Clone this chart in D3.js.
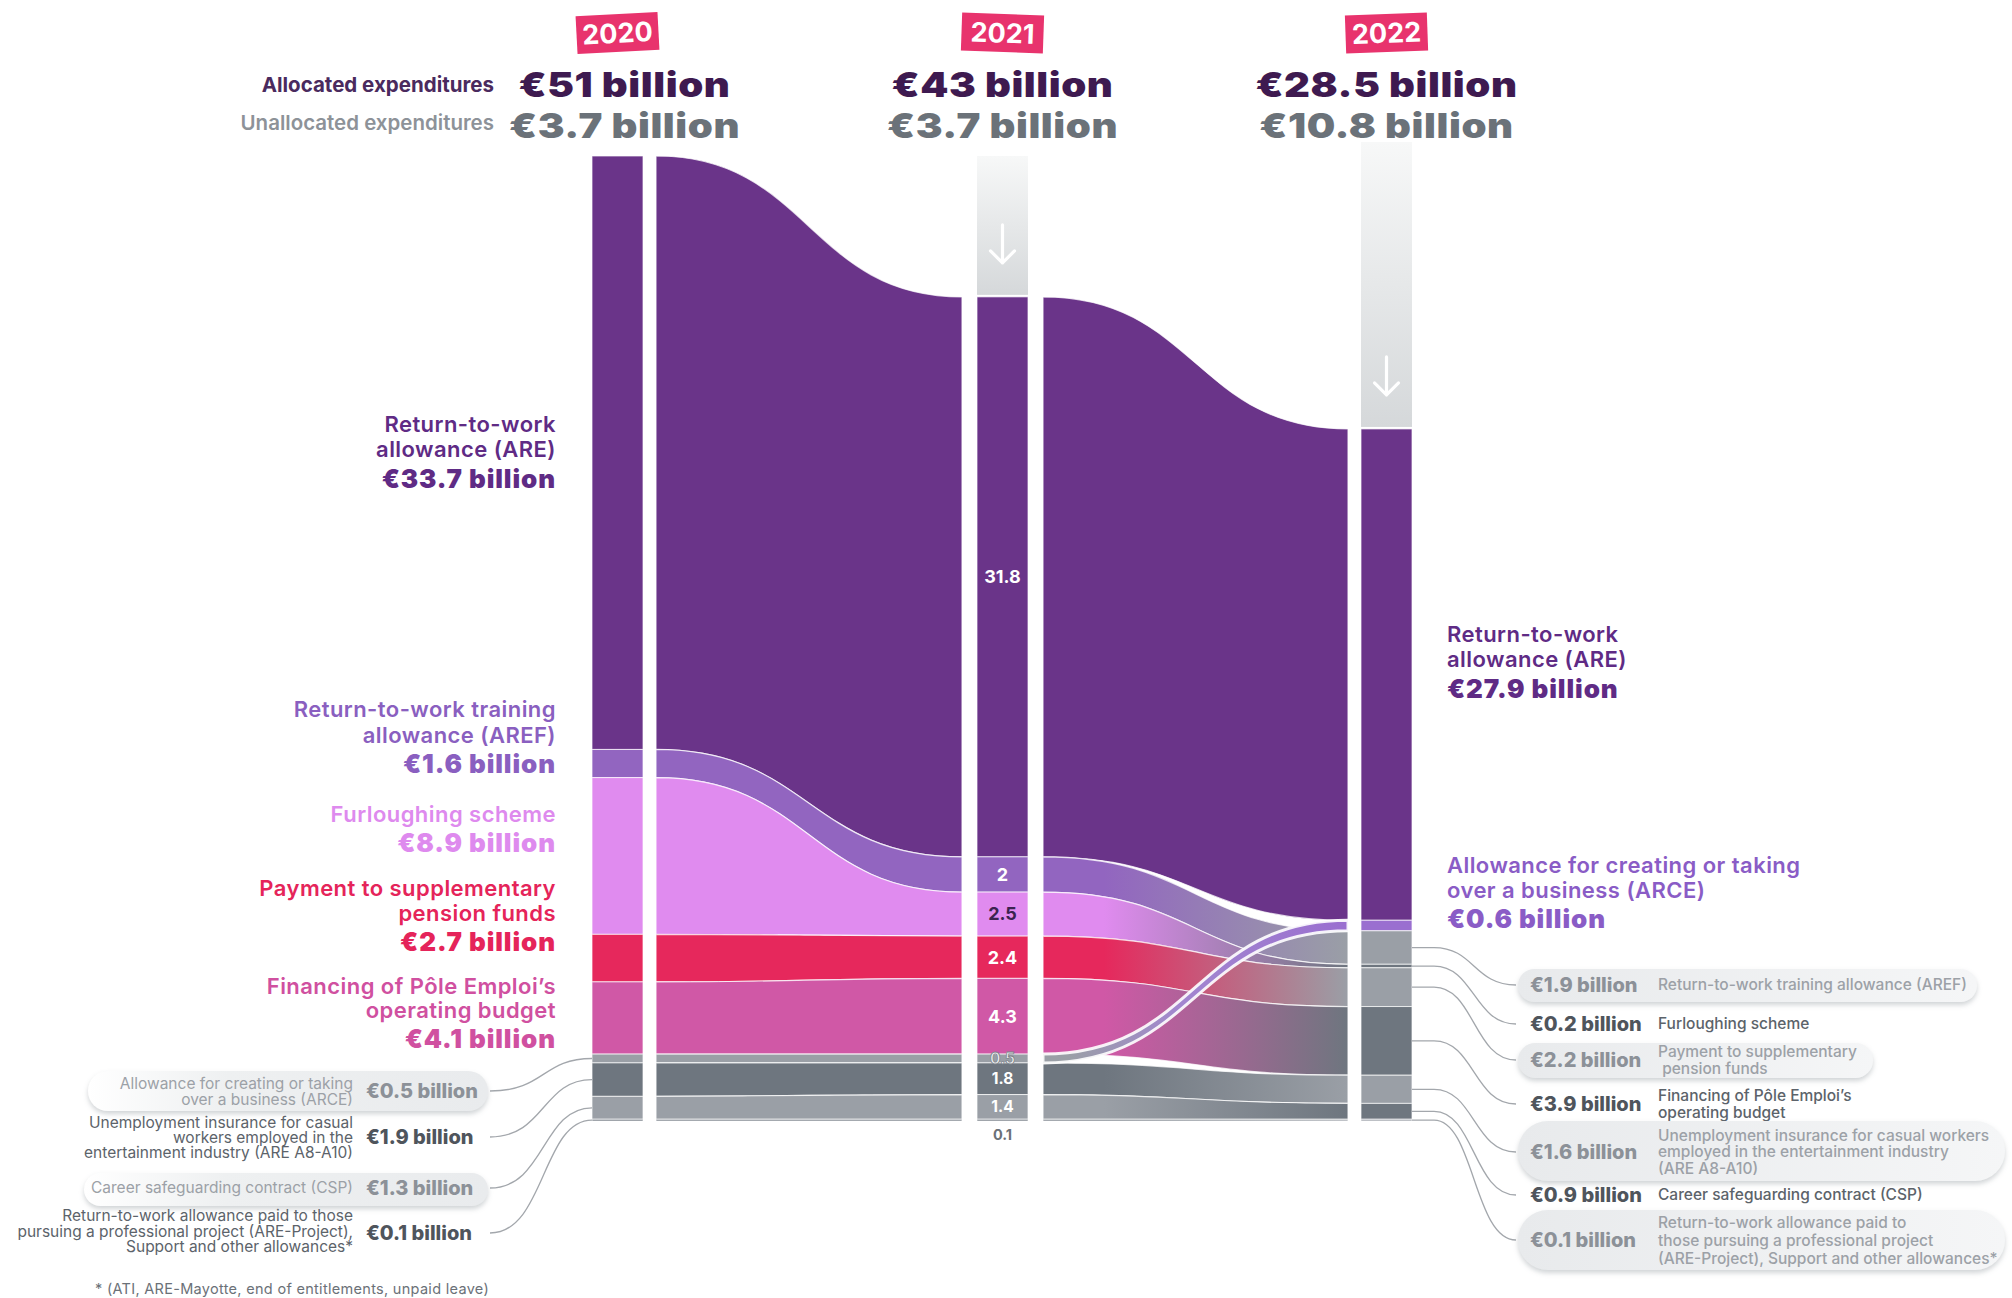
<!DOCTYPE html>
<html>
<head>
<meta charset="utf-8">
<script src="https://cdn.jsdelivr.net/npm/d3@7"></script>
<style>
  html, body { margin: 0; padding: 0; background: #fff; }
  svg { display: block; font-family: Inter, "Open Sans", sans-serif; }
</style>
</head>
<body>
<svg id="chart" width="2012" height="1298"></svg>
<script>
// ---- Data (billions of euros) ----
const years = ["2020", "2021", "2022"];
const categories = ["ARE", "AREF", "Furlough", "Pension", "PoleEmploi", "ARCE", "Casual", "CSP", "Project"];
const values2020 = [33.7, 1.6, 8.9, 2.7, 4.1, 0.5, 1.9, 1.3, 0.1];
const values2021 = [31.8, 2, 2.5, 2.4, 4.3, 0.5, 1.8, 1.4, 0.1];
const values2022 = [27.9, 1.9, 0.2, 2.2, 3.9, 0.6, 1.6, 0.9, 0.1];
const order2022 = ["ARE", "ARCE", "AREF", "Furlough", "Pension", "PoleEmploi", "Casual", "CSP", "Project"];
const allocatedEarly = ["ARE", "AREF", "Furlough", "Pension", "PoleEmploi"];
const allocated2022 = ["ARE", "ARCE"];
const allocatedTotals = [51, 43, 28.5];
const unallocatedTotals = [3.7, 3.7, 10.8];

// ---- Label text ----
const leftNames = {
  ARE: ["Return-to-work", "allowance (ARE)"],
  AREF: ["Return-to-work training", "allowance (AREF)"],
  Furlough: ["Furloughing scheme"],
  Pension: ["Payment to supplementary", "pension funds"],
  PoleEmploi: ["Financing of Pôle Emploi’s", "operating budget"],
  ARCE: ["Allowance for creating or taking", "over a business (ARCE)"],
  Casual: ["Unemployment insurance for casual", "workers employed in the", "entertainment industry (ARE A8-A10)"],
  CSP: ["Career safeguarding contract (CSP)"],
  Project: ["Return-to-work allowance paid to those", "pursuing a professional project (ARE-Project),", "Support and other allowances*"]
};
const rightNames = {
  ARE: ["Return-to-work", "allowance (ARE)"],
  ARCE: ["Allowance for creating or taking", "over a business (ARCE)"],
  AREF: ["Return-to-work training allowance (AREF)"],
  Furlough: ["Furloughing scheme"],
  Pension: ["Payment to supplementary", " pension funds"],
  PoleEmploi: ["Financing of Pôle Emploi’s", "operating budget"],
  Casual: ["Unemployment insurance for casual workers", "employed in the entertainment industry", "(ARE A8-A10)"],
  CSP: ["Career safeguarding contract (CSP)"],
  Project: ["Return-to-work allowance paid to", "those pursuing a professional project", "(ARE-Project), Support and other allowances*"]
};
const footnote = "* (ATI, ARE-Mayotte, end of entitlements, unpaid leave)";

// ---- Styling ----
const colors = {
  ARE: "#6a3489", AREF: "#9265c0", Furlough: "#e08bef",
  Pension: "#e6285c", PoleEmploi: "#d058a6", ARCE: "#9a6fd0"
};
const labelColors = {
  ARE: "#5f2b85", AREF: "#8a5fc0", Furlough: "#de8aee",
  Pension: "#e5245a", PoleEmploi: "#d050a0", ARCE: "#8a5cc6"
};
const grayLight = "#9a9fa6", grayDark = "#6e767f";
const lightEarly = ["ARCE", "CSP"];
const light2022 = ["AREF", "Pension", "Casual", "Project"];

const fmt = v => "€" + v + " billion";

// ---- Layout ----
const svg = d3.select("#chart");
const barW = 51;
const colX = [592, 977, 1361];
const flowX = [[656, 962], [1043, 1348]];
const yBottom = 1121, yTop = 156;

const yearValues = [values2020, values2021, values2022];
const yearOrders = [categories, categories, order2022];
const total2020 = d3.sum(values2020);
const y = d3.scaleLinear().domain([0, total2020]).range([yBottom, yTop]);

function stackYear(vals, order) {
  const byCat = {};
  categories.forEach((c, i) => byCat[c] = vals[i]);
  let cum = d3.sum(vals);
  const out = {};
  order.forEach(c => {
    out[c] = { cat: c, v: byCat[c], y0: y(cum), y1: y(cum - byCat[c]) };
    cum -= byCat[c];
  });
  return out;
}
const stacks = yearValues.map((v, i) => stackYear(v, yearOrders[i]));

function fillFor(cat, yi) {
  const alloc = yi < 2 ? allocatedEarly : allocated2022;
  if (alloc.includes(cat)) return colors[cat];
  const light = yi < 2 ? lightEarly : light2022;
  return light.includes(cat) ? grayLight : grayDark;
}

function ribbon(x0, x1, a0, a1, b0, b1) {
  const p = d3.path();
  const xm = (x0 + x1) / 2;
  p.moveTo(x0, a0);
  p.bezierCurveTo(xm, a0, xm, b0, x1, b0);
  p.lineTo(x1, b1);
  p.bezierCurveTo(xm, b1, xm, a1, x0, a1);
  p.closePath();
  return p.toString();
}

const defs = svg.append("defs");
const shadow = defs.append("filter").attr("id", "pillShadow")
  .attr("x", "-5%").attr("y", "-30%").attr("width", "110%").attr("height", "170%");
shadow.append("feDropShadow").attr("dx", 0).attr("dy", 3).attr("stdDeviation", 2.5)
  .attr("flood-color", "#9aa0a6").attr("flood-opacity", 0.45);

const colGrad = defs.append("linearGradient").attr("id", "colGrad")
  .attr("x1", 0).attr("x2", 0).attr("y1", 0).attr("y2", 1);
colGrad.append("stop").attr("offset", "0%").attr("stop-color", "#f7f8f8");
colGrad.append("stop").attr("offset", "100%").attr("stop-color", "#d5d8da");

// ---- Reduction columns above 2021 and 2022 ----
[1, 2].forEach(yi => {
  const top = d3.min(Object.values(stacks[yi]), d => d.y0);
  const colTop = yi === 1 ? y(total2020) : y(total2020) - 14;
  svg.append("rect")
    .attr("x", colX[yi]).attr("y", colTop)
    .attr("width", barW).attr("height", top - colTop - 2)
    .attr("fill", "url(#colGrad)");
  const cx = colX[yi] + barW / 2;
  const ay1 = top - 34, ay0 = ay1 - 38;
  svg.append("path")
    .attr("d", `M${cx},${ay0}V${ay1}M${cx - 12},${ay1 - 12}L${cx},${ay1}L${cx + 12},${ay1 - 12}`)
    .attr("fill", "none").attr("stroke", "#fff").attr("stroke-width", 3.2)
    .attr("stroke-linecap", "round").attr("stroke-linejoin", "round");
});

// ---- Flows 2020 -> 2021 ----
const flows1 = svg.append("g");
categories.forEach(c => {
  const s = stacks[0][c], t = stacks[1][c];
  flows1.append("path")
    .attr("d", ribbon(flowX[0][0], flowX[0][1], s.y0, s.y1, t.y0, t.y1))
    .attr("fill", fillFor(c, 0))
    .attr("stroke", "#fff").attr("stroke-width", 1.2).attr("stroke-opacity", 0.75);
});

// ---- Flows 2021 -> 2022 ----
const flows2 = svg.append("g");
const flowOrder2 = categories.filter(c => c !== "ARCE").concat(["ARCE"]);
flowOrder2.forEach(c => {
  const s = stacks[1][c], t = stacks[2][c];
  const c0 = fillFor(c, 1), c1 = fillFor(c, 2);
  let fill = c0;
  if (c0 !== c1) {
    const id = "g-" + c;
    const g = defs.append("linearGradient").attr("id", id)
      .attr("gradientUnits", "userSpaceOnUse")
      .attr("x1", flowX[1][0]).attr("x2", flowX[1][1]).attr("y1", 0).attr("y2", 0);
    const crossing = c === "ARCE";
    g.append("stop").attr("offset", "0%").attr("stop-color", c0);
    g.append("stop").attr("offset", crossing ? "8%" : "20%").attr("stop-color", c0);
    g.append("stop").attr("offset", crossing ? "45%" : "100%").attr("stop-color", crossing ? "#a286cf" : c1);
    g.append("stop").attr("offset", "100%").attr("stop-color", c1);
    fill = `url(#${id})`;
  }
  flows2.append("path")
    .attr("d", ribbon(flowX[1][0], flowX[1][1], s.y0, s.y1, t.y0, t.y1))
    .attr("fill", fill)
    .attr("stroke", "#fff")
    .attr("stroke-width", c === "ARCE" ? 3 : 1.2)
    .attr("stroke-opacity", c === "ARCE" ? 0.9 : 0.75);
});

// ---- Bars ----
stacks.forEach((st, yi) => {
  const g = svg.append("g");
  yearOrders[yi].forEach(c => {
    const d = st[c];
    g.append("rect")
      .attr("x", colX[yi]).attr("y", d.y0)
      .attr("width", barW).attr("height", Math.max(d.y1 - d.y0, 0.8))
      .attr("fill", fillFor(c, yi))
      .attr("stroke", "#fff").attr("stroke-width", 1).attr("stroke-opacity", 0.7);
  });
});

// ---- Value labels inside the 2021 bar ----
const cx21 = colX[1] + barW / 2;
categories.forEach(c => {
  const d = stacks[1][c];
  const mid = (d.y0 + d.y1) / 2;
  const t = svg.append("text")
    .attr("x", cx21).attr("text-anchor", "middle")
    .attr("font-size", 18).attr("font-weight", 700)
    .text(d.v);
  if (c === "Project") {
    t.attr("y", d.y1 + 14).attr("dy", "0.35em").attr("fill", "#6b7178").attr("font-size", 14.5);
  } else if (c === "ARCE") {
    t.attr("y", mid).attr("dy", "0.35em").attr("fill", "#eef0f1")
      .attr("stroke", "#7d838a").attr("stroke-width", 0.8).attr("font-size", 15.5);
  } else {
    t.attr("y", mid).attr("dy", "0.35em")
      .attr("fill", c === "Furlough" ? "#3b2350" : "#fff");
    if (c === "Casual" || c === "CSP") t.attr("font-size", 15.5);
  }
});

// ---- Header ----
const badgeRot = [-3, 2, -2];
function headerValue(x, yBase, text, color) {
  svg.append("g").attr("transform", `translate(${x},${yBase}) scale(1.18,1)`)
    .append("text").attr("text-anchor", "middle")
    .attr("font-size", 34).attr("font-weight", 900).attr("letter-spacing", 0.5)
    .attr("fill", color).text(text);
}
years.forEach((yr, i) => {
  const cx = colX[i] + barW / 2;
  const g = svg.append("g").attr("transform", `translate(${cx},33) rotate(${badgeRot[i]})`);
  g.append("rect").attr("x", -41).attr("y", -19).attr("width", 82).attr("height", 38)
    .attr("fill", "#e8336d");
  g.append("text").attr("text-anchor", "middle").attr("dy", "0.36em")
    .attr("font-size", 27).attr("font-weight", 700).attr("fill", "#fff").text(yr);
  const hx = i === 0 ? cx + 7 : cx;
  headerValue(hx, 97, fmt(allocatedTotals[i]), "#3e1a50");
  headerValue(hx, 138, fmt(unallocatedTotals[i]), "#6b7279");
});
svg.append("text").attr("x", 494).attr("y", 92).attr("text-anchor", "end")
  .attr("font-size", 20.5).attr("font-weight", 700).attr("fill", "#4a2a5e")
  .text("Allocated expenditures");
svg.append("text").attr("x", 494).attr("y", 130).attr("text-anchor", "end")
  .attr("font-size", 20.5).attr("font-weight", 600).attr("fill", "#8d9298")
  .text("Unallocated expenditures");

// ---- Big category labels ----
function bigLabel(x, anchor, lines, lineYs, valueY, value, color) {
  const g = svg.append("g").attr("fill", color).attr("text-anchor", anchor);
  lines.forEach((l, i) => g.append("text").attr("x", x).attr("y", lineYs[i]).attr("dy", "0.35em")
    .attr("font-size", 22).attr("font-weight", 600).attr("letter-spacing", 0.45).text(l));
  g.append("text").attr("x", x).attr("y", valueY).attr("dy", "0.35em")
    .attr("font-size", 26).attr("font-weight", 900).attr("letter-spacing", 0.9).text(fmt(value));
}
const leftBig = [
  ["ARE", [424, 449], 479],
  ["AREF", [709, 735], 764],
  ["Furlough", [814], 843],
  ["Pension", [888, 913], 942],
  ["PoleEmploi", [986, 1010], 1039]
];
leftBig.forEach(([c, ys, vy]) =>
  bigLabel(556, "end", leftNames[c], ys, vy, values2020[categories.indexOf(c)], labelColors[c]));
const rightBig = [
  ["ARE", [634, 659], 689],
  ["ARCE", [865, 890], 919]
];
rightBig.forEach(([c, ys, vy]) =>
  bigLabel(1447, "start", rightNames[c], ys, vy, values2022[categories.indexOf(c)], labelColors[c]));

// ---- Small gray labels with connectors ----
function smallLabel(side, c, value, valueY, lineYs, pill, barMid) {
  const light = !!pill;
  const nameColor = light ? "#9ca1a7" : "#5c636a";
  const valColor = light ? "#8c9198" : "#4f555c";
  const g = svg.append("g");
  if (pill) {
    g.append("rect").attr("x", pill[0]).attr("y", pill[1])
      .attr("width", pill[2] - pill[0]).attr("height", pill[3] - pill[1])
      .attr("rx", (pill[3] - pill[1]) / 2)
      .attr("fill", side === "left" ? "url(#pillGradL)" : "url(#pillGradR)")
      .attr("filter", "url(#pillShadow)");
  }
  const names = side === "left" ? leftNames[c] : rightNames[c];
  const nameX = side === "left" ? 353 : 1658;
  const valX = side === "left" ? 366 : 1530;
  names.forEach((l, i) => g.append("text").attr("x", nameX).attr("y", lineYs[i]).attr("dy", "0.35em")
    .attr("text-anchor", side === "left" ? "end" : "start")
    .attr("font-size", 15.5).attr("font-weight", side === "left" ? 400 : 500)
    .attr("fill", nameColor).style("white-space", "pre").text(l));
  g.append("text").attr("x", valX).attr("y", valueY).attr("dy", "0.35em")
    .attr("font-size", 20).attr("font-weight", 800).attr("fill", valColor).text(fmt(value));
  let d;
  if (side === "left") {
    const x0 = 490, x1 = colX[0];
    d = `M${x0},${valueY}C${x0 + 55},${valueY} ${x1 - 50},${barMid} ${x1},${barMid}`;
  } else {
    const x0 = colX[2] + barW, x1 = 1516;
    d = `M${x0},${barMid}H${x0 + 22}C${x0 + 62},${barMid} ${x1 - 42},${valueY} ${x1},${valueY}`;
  }
  svg.append("path").attr("d", d).attr("fill", "none")
    .attr("stroke", "#a3a7ac").attr("stroke-width", 1.3);
}
const pgL = defs.append("linearGradient").attr("id", "pillGradL").attr("x1", 0).attr("x2", 1);
pgL.append("stop").attr("offset", "0%").attr("stop-color", "#ffffff");
pgL.append("stop").attr("offset", "35%").attr("stop-color", "#eef0f1");
pgL.append("stop").attr("offset", "100%").attr("stop-color", "#e9ebed");
const pgR = defs.append("linearGradient").attr("id", "pillGradR").attr("x1", 0).attr("x2", 1);
pgR.append("stop").attr("offset", "0%").attr("stop-color", "#e8eaec");
pgR.append("stop").attr("offset", "100%").attr("stop-color", "#f5f6f7");

const leftSmall = [
  ["ARCE", 1091, [1084, 1100], [88, 1071, 488, 1111]],
  ["Casual", 1137, [1123, 1138, 1153], null],
  ["CSP", 1188, [1188], [84, 1173, 488, 1206]],
  ["Project", 1233, [1216, 1232, 1247], null]
];
leftSmall.forEach(([c, vy, ys, pill]) => {
  const d = stacks[0][c];
  smallLabel("left", c, values2020[categories.indexOf(c)], vy, ys, pill, (d.y0 + d.y1) / 2);
});
const rightSmall = [
  ["AREF", 985, [985], [1518, 969, 1977, 1002]],
  ["Furlough", 1024, [1024], null],
  ["Pension", 1060, [1052, 1069], [1518, 1043, 1873, 1078]],
  ["PoleEmploi", 1104, [1096, 1113], null],
  ["Casual", 1152, [1136, 1152, 1169], [1518, 1121, 2005, 1181]],
  ["CSP", 1195, [1195], null],
  ["Project", 1240, [1223, 1241, 1259], [1518, 1210, 2005, 1270]]
];
rightSmall.forEach(([c, vy, ys, pill]) => {
  const d = stacks[2][c];
  smallLabel("right", c, values2022[categories.indexOf(c)], vy, ys, pill, (d.y0 + d.y1) / 2);
});

// ---- Footnote ----
svg.append("text").attr("x", 489).attr("y", 1289).attr("dy", "0.35em")
  .attr("text-anchor", "end").attr("font-size", 14.5).attr("letter-spacing", 0.3)
  .attr("fill", "#6b7178")
  .text(footnote);
</script>
</body>
</html>
